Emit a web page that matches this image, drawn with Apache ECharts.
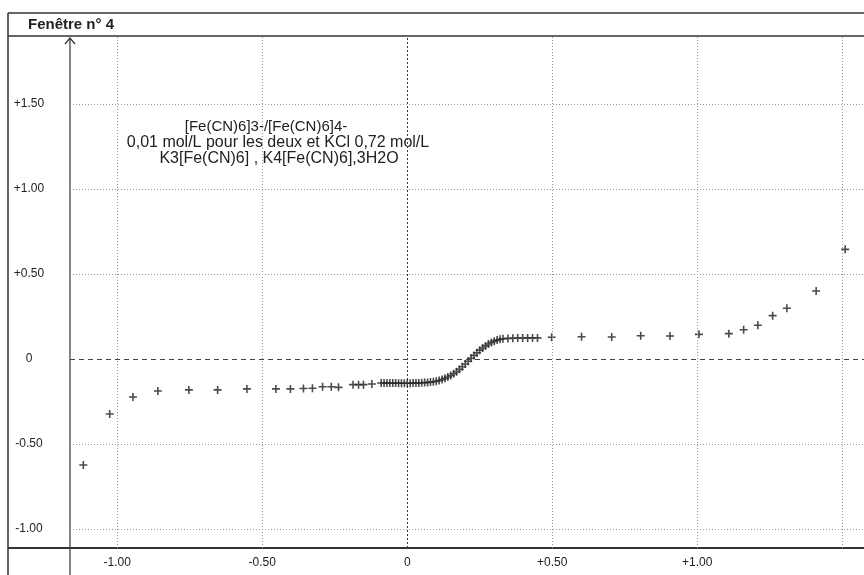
<!DOCTYPE html>
<html>
<head>
<meta charset="utf-8">
<script src="https://cdn.jsdelivr.net/npm/echarts@6/dist/echarts.min.js"></script>
<style>
html,body{margin:0;padding:0;background:#fff;}
#chart{width:864px;height:575px;}
</style>
</head>
<body>
<div id="chart"></div>
<script>
// Potential (V) and current readings
const potential = [
  -1.117, -1.026, -0.946, -0.860, -0.753, -0.654, -0.553, -0.453, -0.403, -0.358,
  -0.327, -0.292, -0.262, -0.237, -0.187, -0.168, -0.151, -0.122,
  -0.09, -0.08, -0.07, -0.06, -0.05, -0.04, -0.03, -0.02, -0.01, 0.00,
  0.01, 0.02, 0.03, 0.04, 0.05, 0.06, 0.07, 0.08, 0.09, 0.10,
  0.11, 0.12, 0.13, 0.14, 0.15, 0.16, 0.17, 0.18, 0.19, 0.20,
  0.21, 0.22, 0.23, 0.24, 0.25, 0.26, 0.27, 0.28, 0.29, 0.30,
  0.31, 0.32, 0.33,
  0.347, 0.364, 0.381, 0.398, 0.415, 0.432, 0.449,
  0.498, 0.601, 0.705, 0.805, 0.906, 1.006, 1.109, 1.160, 1.209, 1.260,
  1.309, 1.410, 1.510
];
const current = [
  -0.624, -0.324, -0.224, -0.188, -0.182, -0.182, -0.176, -0.176, -0.176, -0.174,
  -0.172, -0.163, -0.163, -0.167, -0.151, -0.151, -0.151, -0.147,
  -0.141, -0.141, -0.142, -0.142, -0.142, -0.142, -0.143, -0.143, -0.143, -0.143,
  -0.143, -0.142, -0.142, -0.141, -0.140, -0.139, -0.138, -0.136, -0.134, -0.131,
  -0.127, -0.121, -0.114, -0.106, -0.097, -0.087, -0.075, -0.061, -0.046, -0.030,
  -0.013, 0.004, 0.021, 0.037, 0.052, 0.065, 0.077, 0.088, 0.097, 0.105,
  0.111, 0.116, 0.119,
  0.121, 0.122, 0.123, 0.123, 0.124, 0.124, 0.124,
  0.128, 0.131, 0.129, 0.137, 0.135, 0.145, 0.149, 0.172, 0.198, 0.255,
  0.298, 0.400, 0.645
];
const xTicks = [-1.0, -0.5, 0, 0.5, 1.0];
const xGrid = [-1.0, -0.5, 0.5, 1.0, 1.5];
const yTicks = [-1.0, -0.5, 0, 0.5, 1.0, 1.5];
const yGrid = [-1.0, -0.5, 0.5, 1.0, 1.5];
const windowTitle = 'Fenêtre n° 4';
const noteLines = ['[Fe(CN)6]3-/[Fe(CN)6]4-', '0,01 mol/L pour les deux et KCl 0,72 mol/L', 'K3[Fe(CN)6] , K4[Fe(CN)6],3H2O'];

function fmt(v){
  if (Math.abs(v) < 1e-9) return '0';
  return (v > 0 ? '+' : '') + v.toFixed(2);
}

const pts = potential.map((x, i) => [x, current[i]]);
const FONT = '"Liberation Sans", Arial, sans-serif';
const plus = 'path://M-0.2,-1 L0.2,-1 L0.2,-0.2 L1,-0.2 L1,0.2 L0.2,0.2 L0.2,1 L-0.2,1 L-0.2,0.2 L-1,0.2 L-1,-0.2 L-0.2,-0.2 Z';

const markData = [];
xGrid.forEach(v => markData.push({xAxis: v, lineStyle: {type: [1, 2], color: '#999', width: 1}}));
markData.push({xAxis: 0, lineStyle: {type: [2, 2], color: '#333', width: 1}});
yGrid.forEach(v => markData.push({yAxis: v, lineStyle: {type: [1, 2], color: '#999', width: 1}}));
markData.push({yAxis: 0, lineStyle: {type: [5, 4], color: '#444', width: 1}});

const chart = echarts.init(document.getElementById('chart'), null, {renderer: 'canvas'});
chart.setOption({
  animation: false,
  backgroundColor: '#fff',
  grid: {left: 70, right: 0, top: 36, bottom: 27, containLabel: false},
  xAxis: {
    type: 'value', min: -1.163, max: 1.575,
    axisLine: {show: false}, axisTick: {show: false}, splitLine: {show: false},
    axisLabel: {customValues: xTicks, formatter: fmt, margin: 9, color: '#222', fontSize: 12, fontFamily: FONT}
  },
  yAxis: {
    type: 'value', min: -1.112, max: 1.9,
    axisLine: {show: false}, axisTick: {show: false}, splitLine: {show: false},
    axisLabel: {customValues: yTicks, formatter: fmt, margin: 41, align: 'center', color: '#222', fontSize: 12, fontFamily: FONT}
  },
  series: [{
    type: 'scatter',
    data: pts,
    symbol: plus,
    symbolSize: 8,
    itemStyle: {color: '#2a2a2a', opacity: 0.85},
    silent: true,
    markLine: {silent: true, symbol: ['none', 'none'], label: {show: false}, data: markData}
  }],
  graphic: [
    {type: 'line', shape: {x1: 8, y1: 13, x2: 864, y2: 13}, style: {stroke: '#333', lineWidth: 1.5}},
    {type: 'line', shape: {x1: 8, y1: 36, x2: 864, y2: 36}, style: {stroke: '#333', lineWidth: 1.5}},
    {type: 'line', shape: {x1: 8, y1: 13, x2: 8, y2: 575}, style: {stroke: '#333', lineWidth: 1.5}},
    {type: 'line', shape: {x1: 70, y1: 38, x2: 70, y2: 575}, style: {stroke: '#333', lineWidth: 1.2}},
    {type: 'polyline', shape: {points: [[65, 44], [70, 38], [75, 44]]}, style: {stroke: '#333', lineWidth: 1.2, fill: null}},
    {type: 'line', shape: {x1: 8, y1: 548, x2: 864, y2: 548}, style: {stroke: '#333', lineWidth: 1.8}},
    {type: 'text', x: 28, y: 25, style: {text: windowTitle, font: 'bold 15px ' + FONT, fill: '#222', verticalAlign: 'middle'}},
    {type: 'text', x: 266, y: 127, style: {text: noteLines[0], font: '15px ' + FONT, fill: '#222', align: 'center', verticalAlign: 'middle'}},
    {type: 'text', x: 278, y: 143, style: {text: noteLines[1], font: '16px ' + FONT, fill: '#222', align: 'center', verticalAlign: 'middle'}},
    {type: 'text', x: 279, y: 159, style: {text: noteLines[2], font: '16px ' + FONT, fill: '#222', align: 'center', verticalAlign: 'middle'}}
  ]
});
</script>
</body>
</html>
